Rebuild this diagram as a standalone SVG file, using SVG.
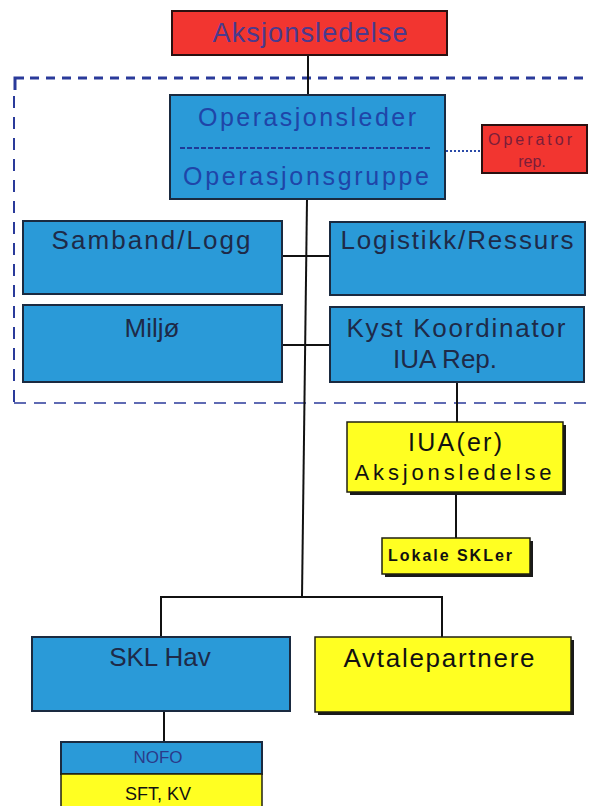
<svg xmlns="http://www.w3.org/2000/svg" width="590" height="806" viewBox="0 0 590 806">
<defs>
<style>
.blue{fill:#2a9ad8;stroke:#1a2a40;stroke-width:2}
.red{fill:#f23530;stroke:#2a1010;stroke-width:2}
.yel{fill:#ffff22;stroke:#202010;stroke-width:1.5}
.shadow{fill:#1a1a1a}
.conn{stroke:#111;stroke-width:2;fill:none}
.t{font-family:"Liberation Sans",Arial,sans-serif;text-anchor:middle}
.tb{fill:#1e2a48;font-size:26px}
.to{fill:#1f45a8;font-size:25px}
.tk{fill:#111;}
</style>
</defs>
<rect width="590" height="806" fill="#ffffff"/>
<g id="boundary" fill="none" stroke="#2a3a9a">
<path d="M15 90 V78 H24" stroke-width="3"/>
<line x1="30" y1="78" x2="590" y2="78" stroke-width="3" stroke-dasharray="9 7"/>
<line x1="14" y1="96" x2="14" y2="403" stroke-width="2" stroke-dasharray="12 9"/>
<line x1="14" y1="403" x2="590" y2="403" stroke-width="1.6" stroke-dasharray="12 8"/>
</g>
<g id="connectors">
<line class="conn" x1="308" y1="55" x2="308" y2="95"/>
<line class="conn" x1="307" y1="199" x2="302" y2="597"/>
<line class="conn" x1="282" y1="256" x2="330" y2="256"/>
<line class="conn" x1="282" y1="345" x2="330" y2="345"/>
<line class="conn" x1="457" y1="382" x2="457" y2="422"/>
<line class="conn" x1="456" y1="492" x2="456" y2="538"/>
<path class="conn" d="M161 637 V597 H442 V637"/>
<line class="conn" x1="164" y1="711" x2="164" y2="742"/>
<line x1="446" y1="151" x2="482" y2="151" stroke="#2a4aa8" stroke-width="2" stroke-dasharray="2 2"/>
</g>
<g id="aksjonsledelse">
<rect class="red" x="172" y="11" width="275" height="44"/>
<text class="t" x="310" y="42" font-size="27" fill="#4a3a8e" textLength="195" lengthAdjust="spacing">Aksjonsledelse</text>
</g>
<g id="operasjonsleder">
<rect class="blue" x="170" y="95" width="275" height="104"/>
<line x1="180" y1="148" x2="432" y2="148" stroke="#1f3a98" stroke-width="2" stroke-dasharray="5 2"/>
<text class="t to" x="307" y="126" textLength="218" lengthAdjust="spacing">Operasjonsleder</text>
<text class="t to" x="306" y="185" textLength="246" lengthAdjust="spacing">Operasjonsgruppe</text>
</g>
<g id="operator-rep">
<rect class="red" x="482" y="125" width="105" height="48"/>
<text class="t" x="530" y="145" font-size="16" fill="#7a1e3a" textLength="84" lengthAdjust="spacing">Operator</text>
<text class="t" x="532" y="167" font-size="16" fill="#7a1e3a">rep.</text>
</g>
<g id="samband">
<rect class="blue" x="23" y="221" width="259" height="73"/>
<text class="t tb" x="151" y="249" textLength="199" lengthAdjust="spacing">Samband/Logg</text>
</g>
<g id="logistikk">
<rect class="blue" x="330" y="222" width="255" height="73"/>
<text class="t tb" x="457" y="249" textLength="233" lengthAdjust="spacing">Logistikk/Ressurs</text>
</g>
<g id="miljo">
<rect class="blue" x="23" y="305" width="259" height="77"/>
<text class="t tb" x="152" y="337">Miljø</text>
</g>
<g id="kyst">
<rect class="blue" x="330" y="307" width="254" height="75"/>
<text class="t tb" x="456" y="337" textLength="219" lengthAdjust="spacing">Kyst Koordinator</text>
<text class="t tb" x="445" y="368">IUA Rep.</text>
</g>
<g id="iua">
<rect class="shadow" x="350" y="425" width="216" height="70"/>
<rect class="yel" x="347" y="422" width="216" height="70"/>
<text class="t tk" x="455" y="451" font-size="25" textLength="94" lengthAdjust="spacing">IUA(er)</text>
<text class="t tk" x="453" y="480" font-size="22" textLength="197" lengthAdjust="spacing">Aksjonsledelse</text>
</g>
<g id="lokale">
<rect class="shadow" x="385" y="541" width="148" height="36"/>
<rect class="yel" x="382" y="538" width="148" height="36"/>
<text class="t tk" x="450" y="561" font-size="16" font-weight="bold" textLength="124" lengthAdjust="spacing">Lokale SKLer</text>
</g>
<g id="skl-hav">
<rect class="blue" x="32" y="637" width="258" height="74"/>
<text class="t tb" x="160" y="666">SKL Hav</text>
</g>
<g id="avtalepartnere">
<rect class="shadow" x="318" y="640" width="256" height="75"/>
<rect class="yel" x="315" y="637" width="256" height="75"/>
<text class="t tk" x="439" y="667" font-size="26" textLength="191" lengthAdjust="spacing">Avtalepartnere</text>
</g>
<g id="nofo">
<rect class="blue" x="61" y="742" width="201" height="32"/>
<rect class="yel" x="61" y="774" width="201" height="40"/>
<text class="t" x="158" y="763" font-size="17" fill="#2a3a8a">NOFO</text>
<text class="t tk" x="158" y="800" font-size="18">SFT, KV</text>
</g>
</svg>
